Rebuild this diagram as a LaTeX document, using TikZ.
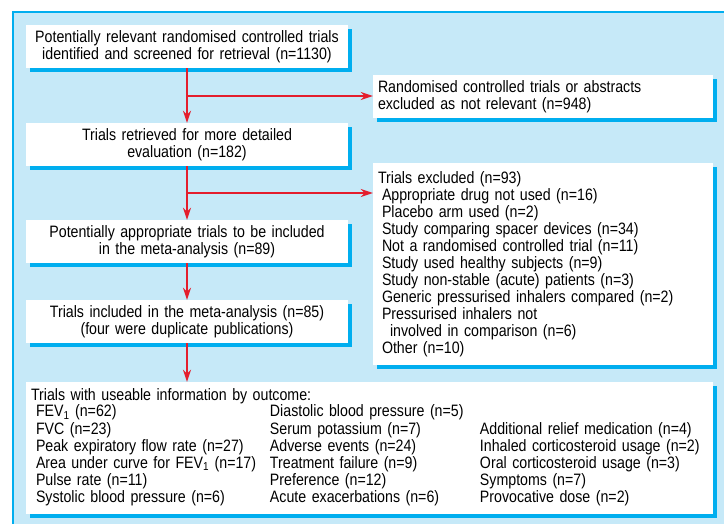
\documentclass[tikz,border=0pt]{standalone}
\usepackage{fontspec}
\setmainfont{Liberation Sans}[FakeStretch=0.86]
\usepackage{tikz}
\usetikzlibrary{arrows.meta,positioning,calc,shadows}
\definecolor{panelblue}{RGB}{198,233,248}
\definecolor{edgecyan}{RGB}{0,174,239}
\definecolor{arrowred}{RGB}{228,30,45}
\tikzset{
  box/.style={fill=white, inner sep=0pt, minimum height=43pt,
    drop shadow={shadow xshift=4pt, shadow yshift=-4pt, fill=edgecyan, opacity=1}},
  midbox/.style={box, minimum width=322pt, text width=316pt, align=center},
  sidebox/.style={box, minimum width=340pt, text width=330pt, align=left},
  arr/.style={draw=arrowred, line width=1.5pt, -{Stealth[length=12pt,width=8pt]}},
}

\begin{document}
\begin{tikzpicture}[x=1pt,y=-1pt,font=\fontsize{16.5}{17}\selectfont]
\useasboundingbox (0,0) rectangle (724,524);
\fill[panelblue] (13,12) rectangle (724,524);
\draw[edgecyan, line width=2pt] (13,524) -- (13,12) -- (724,12);
\node[midbox] (screened) at (187,46.5) {Potentially relevant randomised controlled trials\\identified and screened for retrieval (n=1130)};
\node[midbox] (retrieved) at (187,144.5) {Trials retrieved for more detailed\\evaluation (n=182)};
\node[midbox] (appropriate) at (187,241.5) {Potentially appropriate trials to be included\\in the meta-analysis (n=89)};
\node[midbox] (included) at (187,321.5) {Trials included in the meta-analysis (n=85)\\(four were duplicate publications)};
\node[sidebox] (notrel) at (543,96.5) {Randomised controlled trials or abstracts\\excluded as not relevant (n=948)};
\node[sidebox, minimum height=202pt] (excluded) at (543,264) {Trials excluded (n=93)\\
\hspace*{4pt}Appropriate drug not used (n=16)\\
\hspace*{4pt}Placebo arm used (n=2)\\
\hspace*{4pt}Study comparing spacer devices (n=34)\\
\hspace*{4pt}Not a randomised controlled trial (n=11)\\
\hspace*{4pt}Study used healthy subjects (n=9)\\
\hspace*{4pt}Study non-stable (acute) patients (n=3)\\
\hspace*{4pt}Generic pressurised inhalers compared (n=2)\\
\hspace*{4pt}Pressurised inhalers not\\
\hspace*{12pt}involved in comparison (n=6)\\
\hspace*{4pt}Other (n=10)};
\node[box, minimum width=687pt, minimum height=132pt, text width=677pt, align=left] (outcome) at (369.5,448) {Trials with useable information by outcome:\\
\begin{tabular}{@{\hspace{5pt}}p{234pt}@{}p{210pt}@{}l@{}}
FEV\textsubscript{1} (n=62) & Diastolic blood pressure (n=5) & \\
FVC (n=23) & Serum potassium (n=7) & Additional relief medication (n=4)\\
Peak expiratory flow rate (n=27) & Adverse events (n=24) & Inhaled corticosteroid usage (n=2)\\
Area under curve for FEV\textsubscript{1} (n=17) & Treatment failure (n=9) & Oral corticosteroid usage (n=3)\\
Pulse rate (n=11) & Preference (n=12) & Symptoms (n=7)\\
Systolic blood pressure (n=6) & Acute exacerbations (n=6) & Provocative dose (n=2)
\end{tabular}};
\coordinate (split1) at (screened.south |- 0,96);
\coordinate (split2) at ($(retrieved.south)!0.5!(appropriate.north)$);
\draw[arr] (screened) -- (retrieved);
\draw[arr] (split1) -- (split1 -| notrel.west);
\draw[arr] (retrieved) -- (appropriate);
\draw[arr] (split2) -- (split2 -| excluded.west);
\draw[arr] (appropriate) -- (included);
\draw[arr] (included) -- (included |- outcome.north);
\end{tikzpicture}
\end{document}
